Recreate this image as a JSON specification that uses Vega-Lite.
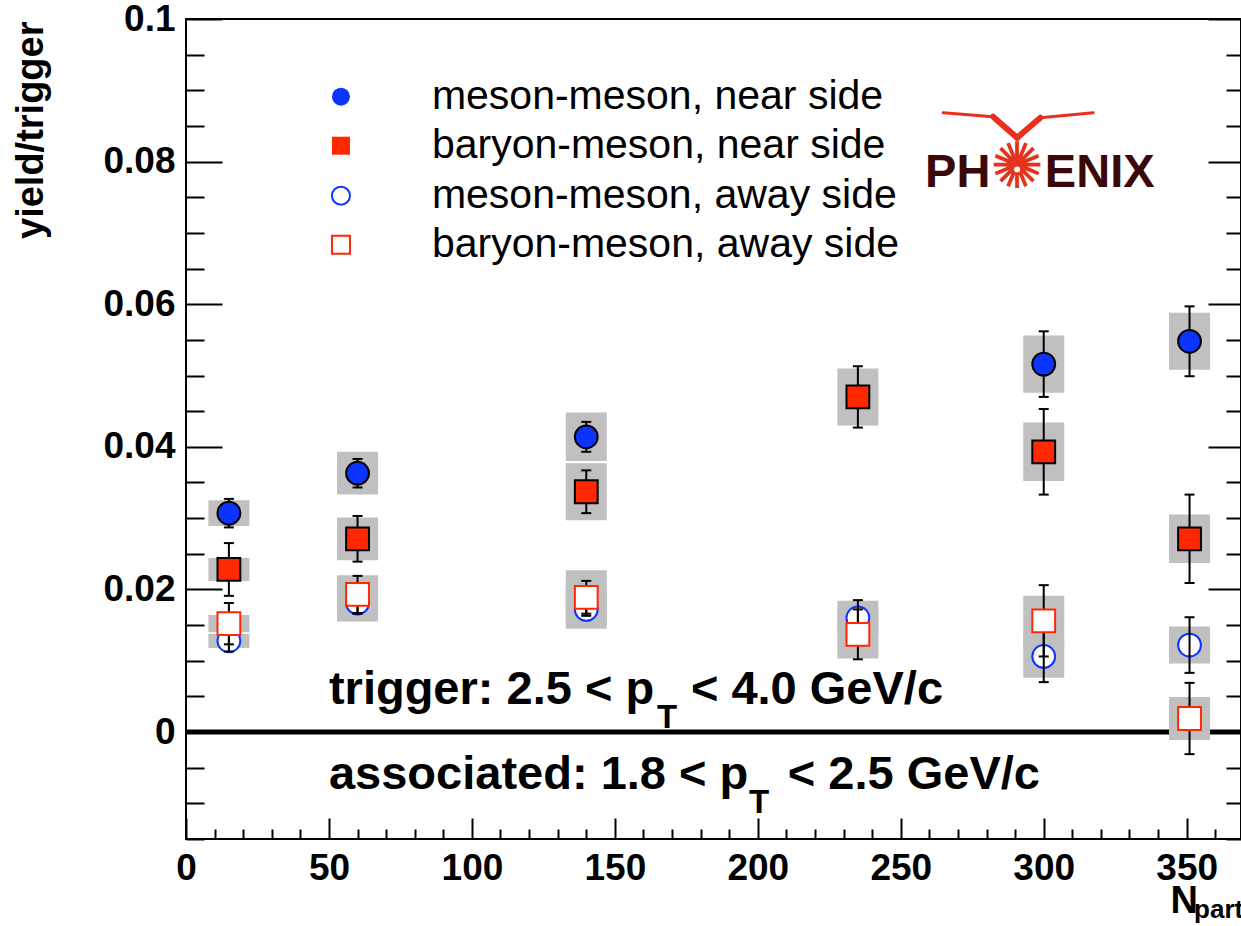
{
  "$schema": "https://vega.github.io/schema/vega-lite/v6.json",
  "width": 1055,
  "height": 820,
  "autosize": {"type": "none"},
  "padding": {"left": 186, "top": 19, "right": 0, "bottom": 87},
  "background": "white",
  "config": {"view": {"stroke": "black", "strokeWidth": 2}, "font": "Liberation Sans"},
  "datasets": {
    "yields": [
      {"series": "meson-meson, near side", "npart": 15, "yield": 0.0307, "stat": 0.0020, "sys": 0.0018},
      {"series": "meson-meson, near side", "npart": 60, "yield": 0.0363, "stat": 0.0020, "sys": 0.0030},
      {"series": "meson-meson, near side", "npart": 140, "yield": 0.0414, "stat": 0.0021, "sys": 0.0034},
      {"series": "meson-meson, near side", "npart": 300, "yield": 0.0516, "stat": 0.0046, "sys": 0.0040},
      {"series": "meson-meson, near side", "npart": 351, "yield": 0.0548, "stat": 0.0049, "sys": 0.0040},
      {"series": "baryon-meson, near side", "npart": 15, "yield": 0.0228, "stat": 0.0037, "sys": 0.0016},
      {"series": "baryon-meson, near side", "npart": 60, "yield": 0.0271, "stat": 0.0032, "sys": 0.0030},
      {"series": "baryon-meson, near side", "npart": 140, "yield": 0.0337, "stat": 0.0030, "sys": 0.0040},
      {"series": "baryon-meson, near side", "npart": 235, "yield": 0.0470, "stat": 0.0043, "sys": 0.0040},
      {"series": "baryon-meson, near side", "npart": 300, "yield": 0.0393, "stat": 0.0060, "sys": 0.0041},
      {"series": "baryon-meson, near side", "npart": 351, "yield": 0.0271, "stat": 0.0062, "sys": 0.0034},
      {"series": "meson-meson, away side", "npart": 15, "yield": 0.0128, "stat": 0.0015, "sys": 0.0010},
      {"series": "meson-meson, away side", "npart": 60, "yield": 0.0181, "stat": 0.0015, "sys": 0.0026},
      {"series": "meson-meson, away side", "npart": 140, "yield": 0.0172, "stat": 0.0009, "sys": 0.0027},
      {"series": "meson-meson, away side", "npart": 235, "yield": 0.0160, "stat": 0.0025, "sys": 0.0024},
      {"series": "meson-meson, away side", "npart": 300, "yield": 0.0106, "stat": 0.0036, "sys": 0.0030},
      {"series": "meson-meson, away side", "npart": 351, "yield": 0.0122, "stat": 0.0039, "sys": 0.0026},
      {"series": "baryon-meson, away side", "npart": 15, "yield": 0.0152, "stat": 0.0029, "sys": 0.0012},
      {"series": "baryon-meson, away side", "npart": 60, "yield": 0.0193, "stat": 0.0026, "sys": 0.0027},
      {"series": "baryon-meson, away side", "npart": 140, "yield": 0.0189, "stat": 0.0023, "sys": 0.0038},
      {"series": "baryon-meson, away side", "npart": 235, "yield": 0.0137, "stat": 0.0035, "sys": 0.0034},
      {"series": "baryon-meson, away side", "npart": 300, "yield": 0.0156, "stat": 0.0050, "sys": 0.0035},
      {"series": "baryon-meson, away side", "npart": 351, "yield": 0.0019, "stat": 0.0050, "sys": 0.0030}
    ]
  },
  "data": {"name": "yields"},
  "resolve": {"axis": {"y": "independent"}},
  "layer": [
    {
      "layer": [
        {
          "data": {"values": [{}]},
          "mark": {"type": "rule", "color": "black", "strokeWidth": 5},
          "encoding": {"y": {"datum": 0, "type": "quantitative", "title": "yield/trigger"}}
        },
        {
          "mark": {"type": "errorbar", "ticks": false, "thickness": 41, "color": "#c0c0c0", "rule": {"opacity": 1}},
          "encoding": {
            "x": {"field": "npart", "type": "quantitative", "title": "N"},
            "y": {"field": "yield", "type": "quantitative", "title": "yield/trigger"},
            "yError": {"field": "sys"}
          }
        },
        {
          "transform": [{"filter": {"field": "series", "oneOf": ["meson-meson, near side", "baryon-meson, near side"]}}],
          "mark": {"type": "errorbar", "thickness": 2, "color": "black", "size": 10, "ticks": {"opacity": 1, "color": "black"}, "rule": {"opacity": 1}},
          "encoding": {
            "x": {"field": "npart", "type": "quantitative", "title": "N"},
            "y": {"field": "yield", "type": "quantitative", "title": "yield/trigger"},
            "yError": {"field": "stat"}
          }
        },
        {
          "transform": [{"filter": {"field": "series", "oneOf": ["meson-meson, near side", "baryon-meson, near side", "meson-meson, away side"]}}],
          "mark": {"type": "point", "size": 520, "strokeWidth": 2, "opacity": 1, "fillOpacity": 1},
          "encoding": {
            "x": {
              "field": "npart", "type": "quantitative", "title": "N",
              "scale": {"domain": [0, 369], "nice": false, "zero": false},
              "axis": {
                "orient": "bottom", "title": "N", "tickCount": 100,
                "values": [0, 10, 20, 30, 40, 50, 60, 70, 80, 90, 100, 110, 120, 130, 140, 150, 160, 170, 180, 190, 200, 210, 220, 230, 240, 250, 260, 270, 280, 290, 300, 310, 320, 330, 340, 350, 360],
                "domain": false, "grid": false, "tickColor": "black", "tickWidth": 2,
                "tickSize": {"condition": {"test": "datum.value % 50 === 0", "value": -21}, "value": -10},
                "labelExpr": "datum.value % 50 === 0 ? datum.label : ''",
                "labelFont": "Liberation Sans", "labelFontWeight": "bold", "labelFontSize": 37, "labelColor": "black",
                "labelPadding": 32, "labelOverlap": false, "labelFlush": false, "labelBound": false,
                "titleFont": "Liberation Sans", "titleFontWeight": "bold", "titleFontSize": 38, "titleColor": "black",
                "titleX": 984, "titleY": 73, "titleAlign": "left", "titleBaseline": "alphabetic"
              }
            },
            "y": {
              "field": "yield", "type": "quantitative", "title": "yield/trigger",
              "scale": {"domain": [-0.015, 0.1], "nice": false, "zero": false},
              "axis": {
                "orient": "left", "title": "yield/trigger", "tickCount": 100,
                "values": [-0.015, -0.01, -0.005, 0, 0.005, 0.01, 0.015, 0.02, 0.025, 0.03, 0.035, 0.04, 0.045, 0.05, 0.055, 0.06, 0.065, 0.07, 0.075, 0.08, 0.085, 0.09, 0.095, 0.1],
                "domain": false, "grid": false, "tickColor": "black", "tickWidth": 2,
                "tickSize": {"condition": {"test": "abs(datum.value * 50 - round(datum.value * 50)) < 1e-6", "value": -36}, "value": -18},
                "labelExpr": "abs(datum.value * 50 - round(datum.value * 50)) < 1e-6 ? format(datum.value, '.2~f') : ''",
                "labelFont": "Liberation Sans", "labelFontWeight": "bold", "labelFontSize": 37, "labelColor": "black",
                "labelPadding": 47, "labelOverlap": false, "labelBound": false, "labelFlush": false,
                "titleFont": "Liberation Sans", "titleFontWeight": "bold", "titleFontSize": 38, "titleColor": "black",
                "titleAngle": 270, "titleX": -144, "titleY": 2, "titleAlign": "right", "titleBaseline": "alphabetic"
              }
            },
            "shape": {
              "field": "series", "type": "nominal", "legend": null,
              "scale": {"domain": ["meson-meson, near side", "baryon-meson, near side", "meson-meson, away side", "baryon-meson, away side"], "range": ["circle", "square", "circle", "square"]}
            },
            "fill": {
              "field": "series", "type": "nominal", "legend": null,
              "scale": {"domain": ["meson-meson, near side", "baryon-meson, near side", "meson-meson, away side", "baryon-meson, away side"], "range": ["#0d33ff", "#ff2800", "#ffffff", "#ffffff"]}
            },
            "stroke": {
              "field": "series", "type": "nominal", "legend": null,
              "scale": {"domain": ["meson-meson, near side", "baryon-meson, near side", "meson-meson, away side", "baryon-meson, away side"], "range": ["#000000", "#000000", "#0d33ff", "#ff2800"]}
            }
          }
        },
        {
          "transform": [{"filter": {"field": "series", "oneOf": ["meson-meson, away side", "baryon-meson, away side"]}}],
          "mark": {"type": "errorbar", "thickness": 2, "color": "black", "size": 10, "ticks": {"opacity": 1, "color": "black"}, "rule": {"opacity": 1}},
          "encoding": {
            "x": {"field": "npart", "type": "quantitative", "title": "N"},
            "y": {"field": "yield", "type": "quantitative", "title": "yield/trigger"},
            "yError": {"field": "stat"}
          }
        },
        {"data": {"values": [{}]},
         "mark": {"type": "text", "text": "part", "font": "Liberation Sans", "fontWeight": "bold", "fontSize": 26, "align": "left", "baseline": "alphabetic", "color": "black"},
         "encoding": {"x": {"datum": 352.6, "title": "N"}, "y": {"datum": -0.02605, "title": "yield/trigger"}}},
        {"data": {"values": [{}]},
         "mark": {"type": "text", "text": "trigger: 2.5 < p", "font": "Liberation Sans", "fontWeight": "bold", "fontSize": 47, "align": "left", "baseline": "alphabetic", "color": "black"},
         "encoding": {"x": {"datum": 50, "title": "N"}, "y": {"datum": 0.00397, "title": "yield/trigger"}}},
        {"data": {"values": [{}]},
         "mark": {"type": "text", "text": "T", "font": "Liberation Sans", "fontWeight": "bold", "fontSize": 33, "align": "left", "baseline": "alphabetic", "color": "black"},
         "encoding": {"x": {"datum": 164.7, "title": "N"}, "y": {"datum": 0.00061, "title": "yield/trigger"}}},
        {"data": {"values": [{}]},
         "mark": {"type": "text", "text": "< 4.0 GeV/c", "font": "Liberation Sans", "fontWeight": "bold", "fontSize": 47, "align": "left", "baseline": "alphabetic", "color": "black"},
         "encoding": {"x": {"datum": 176.6, "title": "N"}, "y": {"datum": 0.00397, "title": "yield/trigger"}}},
        {"data": {"values": [{}]},
         "mark": {"type": "text", "text": "associated: 1.8 < p", "font": "Liberation Sans", "fontWeight": "bold", "fontSize": 47, "align": "left", "baseline": "alphabetic", "color": "black"},
         "encoding": {"x": {"datum": 50, "title": "N"}, "y": {"datum": -0.00795, "title": "yield/trigger"}}},
        {"data": {"values": [{}]},
         "mark": {"type": "text", "text": "T", "font": "Liberation Sans", "fontWeight": "bold", "fontSize": 33, "align": "left", "baseline": "alphabetic", "color": "black"},
         "encoding": {"x": {"datum": 196.9, "title": "N"}, "y": {"datum": -0.01133, "title": "yield/trigger"}}},
        {"data": {"values": [{}]},
         "mark": {"type": "text", "text": "< 2.5 GeV/c", "font": "Liberation Sans", "fontWeight": "bold", "fontSize": 47, "align": "left", "baseline": "alphabetic", "color": "black"},
         "encoding": {"x": {"datum": 210.5, "title": "N"}, "y": {"datum": -0.00795, "title": "yield/trigger"}}},
        {"data": {"values": [{}]},
         "mark": {"type": "point", "shape": "circle", "size": 324, "filled": true, "fill": "#0d33ff", "strokeWidth": 0, "opacity": 1},
         "encoding": {"x": {"datum": 54.2, "title": "N"}, "y": {"datum": 0.0891, "title": "yield/trigger"}}},
        {"data": {"values": [{}]},
         "mark": {"type": "point", "shape": "square", "size": 324, "filled": true, "fill": "#ff2800", "strokeWidth": 0, "opacity": 1},
         "encoding": {"x": {"datum": 54.2, "title": "N"}, "y": {"datum": 0.08223, "title": "yield/trigger"}}},
        {"data": {"values": [{}]},
         "mark": {"type": "point", "shape": "circle", "size": 324, "filled": true, "fill": "white", "stroke": "#0d33ff", "strokeWidth": 2, "opacity": 1},
         "encoding": {"x": {"datum": 54.2, "title": "N"}, "y": {"datum": 0.07522, "title": "yield/trigger"}}},
        {"data": {"values": [{}]},
         "mark": {"type": "point", "shape": "square", "size": 324, "filled": true, "fill": "white", "stroke": "#ff2800", "strokeWidth": 2, "opacity": 1},
         "encoding": {"x": {"datum": 54.2, "title": "N"}, "y": {"datum": 0.06835, "title": "yield/trigger"}}},
        {"data": {"values": [{}]},
         "mark": {"type": "text", "text": "meson-meson, near side", "font": "Liberation Sans", "fontSize": 41, "align": "left", "baseline": "middle", "color": "black"},
         "encoding": {"x": {"datum": 86.0, "title": "N"}, "y": {"datum": 0.0891, "title": "yield/trigger"}}},
        {"data": {"values": [{}]},
         "mark": {"type": "text", "text": "baryon-meson, near side", "font": "Liberation Sans", "fontSize": 41, "align": "left", "baseline": "middle", "color": "black"},
         "encoding": {"x": {"datum": 86.0, "title": "N"}, "y": {"datum": 0.08223, "title": "yield/trigger"}}},
        {"data": {"values": [{}]},
         "mark": {"type": "text", "text": "meson-meson, away side", "font": "Liberation Sans", "fontSize": 41, "align": "left", "baseline": "middle", "color": "black"},
         "encoding": {"x": {"datum": 86.0, "title": "N"}, "y": {"datum": 0.07522, "title": "yield/trigger"}}},
        {"data": {"values": [{}]},
         "mark": {"type": "text", "text": "baryon-meson, away side", "font": "Liberation Sans", "fontSize": 41, "align": "left", "baseline": "middle", "color": "black"},
         "encoding": {"x": {"datum": 86.0, "title": "N"}, "y": {"datum": 0.06835, "title": "yield/trigger"}}},
        {"data": {"values": [{}]},
         "mark": {"type": "rule", "color": "#e8301c", "strokeWidth": 3, "strokeCap": "round"},
         "encoding": {"x": {"datum": 264.8, "title": "N"}, "y": {"datum": 0.08686, "title": "yield/trigger"}, "x2": {"datum": 282.3}, "y2": {"datum": 0.0863}}},
        {"data": {"values": [{}]},
         "mark": {"type": "rule", "color": "#e8301c", "strokeWidth": 6, "strokeCap": "round"},
         "encoding": {"x": {"datum": 282.3, "title": "N"}, "y": {"datum": 0.0863, "title": "yield/trigger"}, "x2": {"datum": 290.7}, "y2": {"datum": 0.08335}}},
        {"data": {"values": [{}]},
         "mark": {"type": "rule", "color": "#e8301c", "strokeWidth": 6, "strokeCap": "round"},
         "encoding": {"x": {"datum": 290.7, "title": "N"}, "y": {"datum": 0.08335, "title": "yield/trigger"}, "x2": {"datum": 298.8}, "y2": {"datum": 0.08616}}},
        {"data": {"values": [{}]},
         "mark": {"type": "rule", "color": "#e8301c", "strokeWidth": 3, "strokeCap": "round"},
         "encoding": {"x": {"datum": 298.8, "title": "N"}, "y": {"datum": 0.08616, "title": "yield/trigger"}, "x2": {"datum": 317.3}, "y2": {"datum": 0.08686}}},
        {"data": {"values": [{}]},
         "mark": {"type": "text", "text": "PH", "font": "Liberation Sans", "fontWeight": "bold", "fontSize": 47, "align": "left", "baseline": "alphabetic", "color": "#3a0808"},
         "encoding": {"x": {"datum": 258.5, "title": "N"}, "y": {"datum": 0.07648, "title": "yield/trigger"}}},
        {"data": {"values": [{}]},
         "mark": {"type": "text", "text": "ENIX", "font": "Liberation Sans", "fontWeight": "bold", "fontSize": 47, "align": "left", "baseline": "alphabetic", "color": "#3a0808"},
         "encoding": {"x": {"datum": 300.4, "title": "N"}, "y": {"datum": 0.07648, "title": "yield/trigger"}}},
        {"data": {"values": [{}]},
         "mark": {"type": "text", "text": "✺", "font": "DejaVu Sans", "fontSize": 64, "align": "center", "baseline": "middle", "color": "#e5321c"},
         "encoding": {"x": {"datum": 290.7, "title": "N"}, "y": {"datum": 0.0789, "title": "yield/trigger"}}},
        {"data": {"values": [{}]},
         "mark": {"type": "point", "shape": "circle", "size": 50, "filled": true, "fill": "white", "stroke": "#e5321c", "strokeWidth": 1, "opacity": 1},
         "encoding": {"x": {"datum": 290.7, "title": "N"}, "y": {"datum": 0.0789, "title": "yield/trigger"}}}
      ]
    },
    {
      "transform": [{"filter": {"field": "series", "equal": "baryon-meson, away side"}}],
      "mark": {"type": "point", "size": 520, "strokeWidth": 2, "opacity": 1, "fillOpacity": 1},
      "encoding": {
        "x": {"field": "npart", "type": "quantitative", "title": "N"},
        "y": {
          "field": "yield", "type": "quantitative",
          "axis": {
            "orient": "right", "title": null, "tickCount": 100,
            "values": [-0.015, -0.01, -0.005, 0, 0.005, 0.01, 0.015, 0.02, 0.025, 0.03, 0.035, 0.04, 0.045, 0.05, 0.055, 0.06, 0.065, 0.07, 0.075, 0.08, 0.085, 0.09, 0.095, 0.1],
            "domain": false, "grid": false, "labels": false,
            "tickColor": "black", "tickWidth": 2,
            "tickSize": {"condition": {"test": "abs(datum.value * 50 - round(datum.value * 50)) < 1e-6", "value": -33}, "value": -15}
          }
        },
        "shape": {"field": "series", "type": "nominal", "legend": null},
        "fill": {"field": "series", "type": "nominal", "legend": null},
        "stroke": {"field": "series", "type": "nominal", "legend": null}
      }
    }
  ]
}
